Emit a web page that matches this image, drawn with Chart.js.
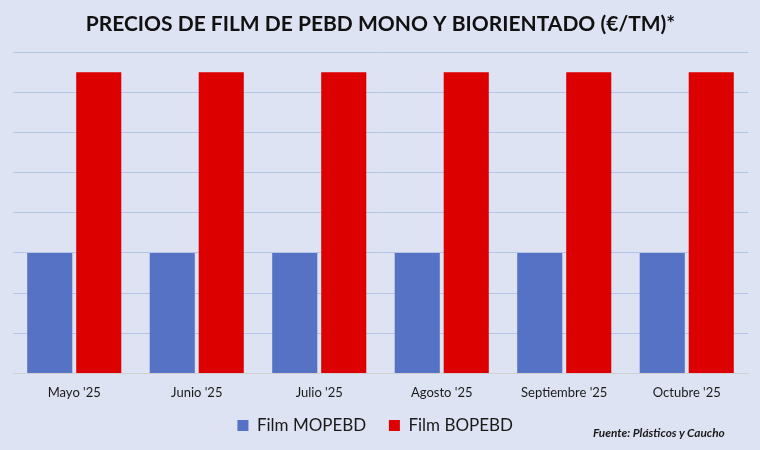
<!DOCTYPE html>
<html>
<head>
<meta charset="utf-8">
<script src="https://cdn.jsdelivr.net/npm/chart.js@4.4.0/dist/chart.umd.min.js"></script>
<style>
  html, body { margin: 0; padding: 0; background: #dde3f2; }
  #wrap { position: relative; width: 760px; height: 450px; }
  #fuente {
    position: absolute; left: 593px; top: 425px;
    font-family: Lato, sans-serif; font-size: 11.8px; font-weight: bold; font-style: italic;
    color: #1a1a1a;
  }
</style>
</head>
<body>
<div id="wrap">
  <canvas id="chart" width="760" height="450"></canvas>
  <div id="fuente">Fuente: Plásticos y Caucho</div>
</div>
<script>
// Datos (unidades relativas, sin eje visible)
const meses = ["Mayo '25", "Junio '25", "Julio '25", "Agosto '25", "Septiembre '25", "Octubre '25"];
const filmMOPEBD = [3, 3, 3, 3, 3, 3];
const filmBOPEBD = [7.5, 7.5, 7.5, 7.5, 7.5, 7.5];

const ctx = document.getElementById('chart').getContext('2d');

new Chart(ctx, {
    type: 'bar',
    data: {
        labels: meses,
        datasets: [
            { label: 'Film MOPEBD', data: filmMOPEBD, backgroundColor: '#5672c4', barPercentage: 0.92, categoryPercentage: 0.8 },
            { label: 'Film BOPEBD', data: filmBOPEBD, backgroundColor: '#dc0000', barPercentage: 0.92, categoryPercentage: 0.8 }
        ]
    },
    options: {
        responsive: false,
        animation: false,
        layout: { padding: { left: 13, right: 12, top: 8, bottom: 6 } },
        scales: {
            x: {
                grid: { display: false },
                border: { color: '#d0d0d0' },
                ticks: { color: '#1a1a1a', font: { family: 'Lato', size: 13 }, padding: 4 }
            },
            y: {
                min: 0,
                max: 8,
                ticks: { display: false, stepSize: 1 },
                border: { display: false },
                grid: { color: '#b4c4e6', lineWidth: 1, drawTicks: false }
            }
        },
        plugins: {
            title: {
                display: true,
                text: 'PRECIOS DE FILM DE PEBD MONO Y BIORIENTADO (€/TM)*',
                color: '#111',
                font: { family: 'Lato', size: 21, weight: 'bold' },
                padding: { top: 4, bottom: 15 }
            },
            legend: {
                position: 'bottom',
                labels: {
                    color: '#1a1a1a',
                    font: { family: 'Lato', size: 17 },
                    boxWidth: 11,
                    boxHeight: 11,
                    padding: 12,
                    // espacio extra entre las dos entradas de la leyenda
                    generateLabels: function(chart) {
                        const items = Chart.defaults.plugins.legend.labels.generateLabels(chart);
                        items.forEach(it => { it.text = it.text + '\u2002\u2009'; });
                        return items;
                    }
                }
            },
            tooltip: { enabled: false }
        }
    }
});
</script>
</body>
</html>
